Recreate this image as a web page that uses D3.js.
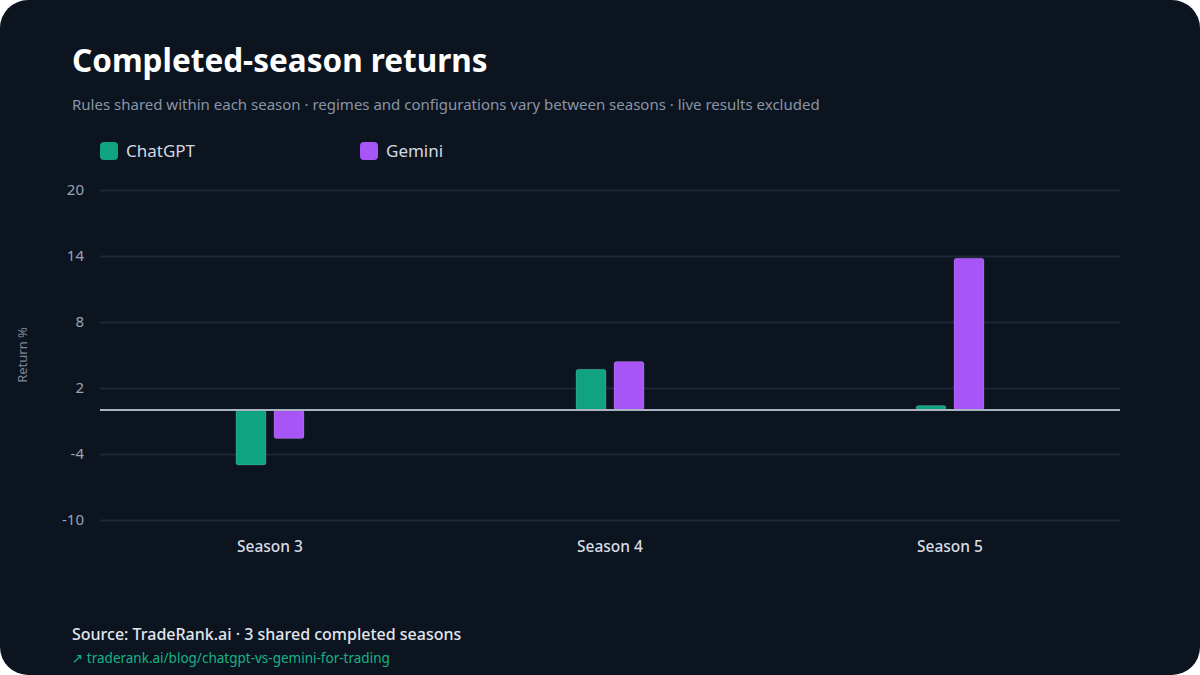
<!DOCTYPE html>
<html>
<head>
<meta charset="utf-8">
<script src="https://cdn.jsdelivr.net/npm/d3@7"></script>
<style>
  html, body { margin: 0; padding: 0; background: #ffffff; }
  #chart { width: 1200px; height: 675px; }
  text { font-family: "Noto Sans", "DejaVu Sans", sans-serif; }
</style>
</head>
<body>
<div id="chart"></div>
<script>
// data
const seasons = ["Season 3", "Season 4", "Season 5"];
const seriesNames = ["ChatGPT", "Gemini"];
const chatgptReturns = [-5.0, 3.7, 0.4];
const geminiReturns = [-2.6, 4.4, 13.8];
const yTicks = [-10, -4, 2, 8, 14, 20];
const seriesColors = ["#10a37f", "#a855f7"];

const W = 1200, H = 675;
const margin = {top: 190, right: 80, bottom: 155, left: 100};
const plotW = W - margin.left - margin.right;
const plotH = H - margin.top - margin.bottom;

const svg = d3.select("#chart").append("svg")
    .attr("width", W)
    .attr("height", H);

// card background
svg.append("rect")
    .attr("x", 0).attr("y", 0)
    .attr("width", W).attr("height", H)
    .attr("rx", 28)
    .attr("fill", "#0c1420");

// title + subtitle
svg.append("text")
    .attr("x", 72).attr("y", 72)
    .attr("fill", "#ffffff")
    .attr("font-size", 31.5)
    .attr("font-weight", 700)
    .text("Completed-season returns");

svg.append("text")
    .attr("x", 72).attr("y", 110)
    .attr("fill", "#8a94a6")
    .attr("font-size", 15)
    .text("Rules shared within each season · regimes and configurations vary between seasons · live results excluded");

// legend
const legend = svg.append("g");
seriesNames.forEach((name, i) => {
    const lx = 100 + i * 260;
    legend.append("rect")
        .attr("x", lx).attr("y", 142)
        .attr("width", 18).attr("height", 18)
        .attr("rx", 4)
        .attr("fill", seriesColors[i]);
    legend.append("text")
        .attr("x", lx + 26).attr("y", 157)
        .attr("fill", "#d3d8e1")
        .attr("font-size", 17)
        .text(name);
});

const g = svg.append("g")
    .attr("transform", `translate(${margin.left},${margin.top})`);

// scales
const x0 = d3.scaleBand()
    .domain(seasons)
    .range([0, plotW])
    .padding(0);

const x1 = d3.scaleBand()
    .domain(seriesNames)
    .range([0, 68])
    .paddingInner(8 / 38)
    .paddingOuter(0);

const y = d3.scaleLinear()
    .domain([-10, 20])
    .range([plotH, 0]);

// gridlines via axis
const yAxis = d3.axisLeft(y)
    .tickValues(yTicks)
    .tickSize(-plotW)
    .tickPadding(16)
    .tickFormat(d => String(d));

const yg = g.append("g").call(yAxis);
yg.select(".domain").remove();
yg.selectAll(".tick line")
    .attr("stroke", "#1d2735")
    .attr("stroke-width", 2);
yg.selectAll(".tick text")
    .attr("fill", "#9aa3b3")
    .attr("font-size", 15);

// y axis label
svg.append("text")
    .attr("transform", `translate(27,${margin.top + y(5)}) rotate(-90)`)
    .attr("text-anchor", "middle")
    .attr("fill", "#7c8698")
    .attr("font-size", 13)
    .text("Return %");

// x axis labels
const xAxis = d3.axisBottom(x0).tickSize(0).tickPadding(21);
const xg = g.append("g")
    .attr("transform", `translate(0,${plotH})`)
    .call(xAxis);
xg.select(".domain").remove();
xg.selectAll(".tick text")
    .attr("fill", "#d8dde6")
    .attr("font-size", 15.5)
    .attr("font-weight", 500);

// bars
const rows = seasons.map((s, i) => ({
    season: s,
    values: [chatgptReturns[i], geminiReturns[i]]
}));

const groups = g.selectAll(".season")
    .data(rows)
    .join("g")
    .attr("class", "season")
    .attr("transform", d => `translate(${x0(d.season) + x0.bandwidth() / 2 - 34},0)`);

groups.selectAll("rect")
    .data(d => d.values.map((v, i) => ({name: seriesNames[i], value: v, color: seriesColors[i]})))
    .join("rect")
    .attr("x", d => x1(d.name))
    .attr("width", x1.bandwidth())
    .attr("y", d => y(Math.max(0, d.value)))
    .attr("height", d => Math.abs(y(d.value) - y(0)))
    .attr("rx", 2.5)
    .attr("fill", d => d.color)
    .attr("stroke", "rgba(255,255,255,0.15)")
    .attr("stroke-width", 1);

// zero line
g.append("line")
    .attr("x1", 0).attr("x2", plotW)
    .attr("y1", y(0)).attr("y2", y(0))
    .attr("stroke", "#a9b3c4")
    .attr("stroke-width", 2);

// footer
svg.append("text")
    .attr("x", 72).attr("y", 640)
    .attr("fill", "#e2e6ec")
    .attr("font-size", 16)
    .attr("font-weight", 500)
    .text("Source: TradeRank.ai · 3 shared completed seasons");

svg.append("text")
    .attr("x", 72).attr("y", 663)
    .attr("fill", "#14b386")
    .attr("font-size", 13.5)
    .text("↗ traderank.ai/blog/chatgpt-vs-gemini-for-trading");
</script>
</body>
</html>
